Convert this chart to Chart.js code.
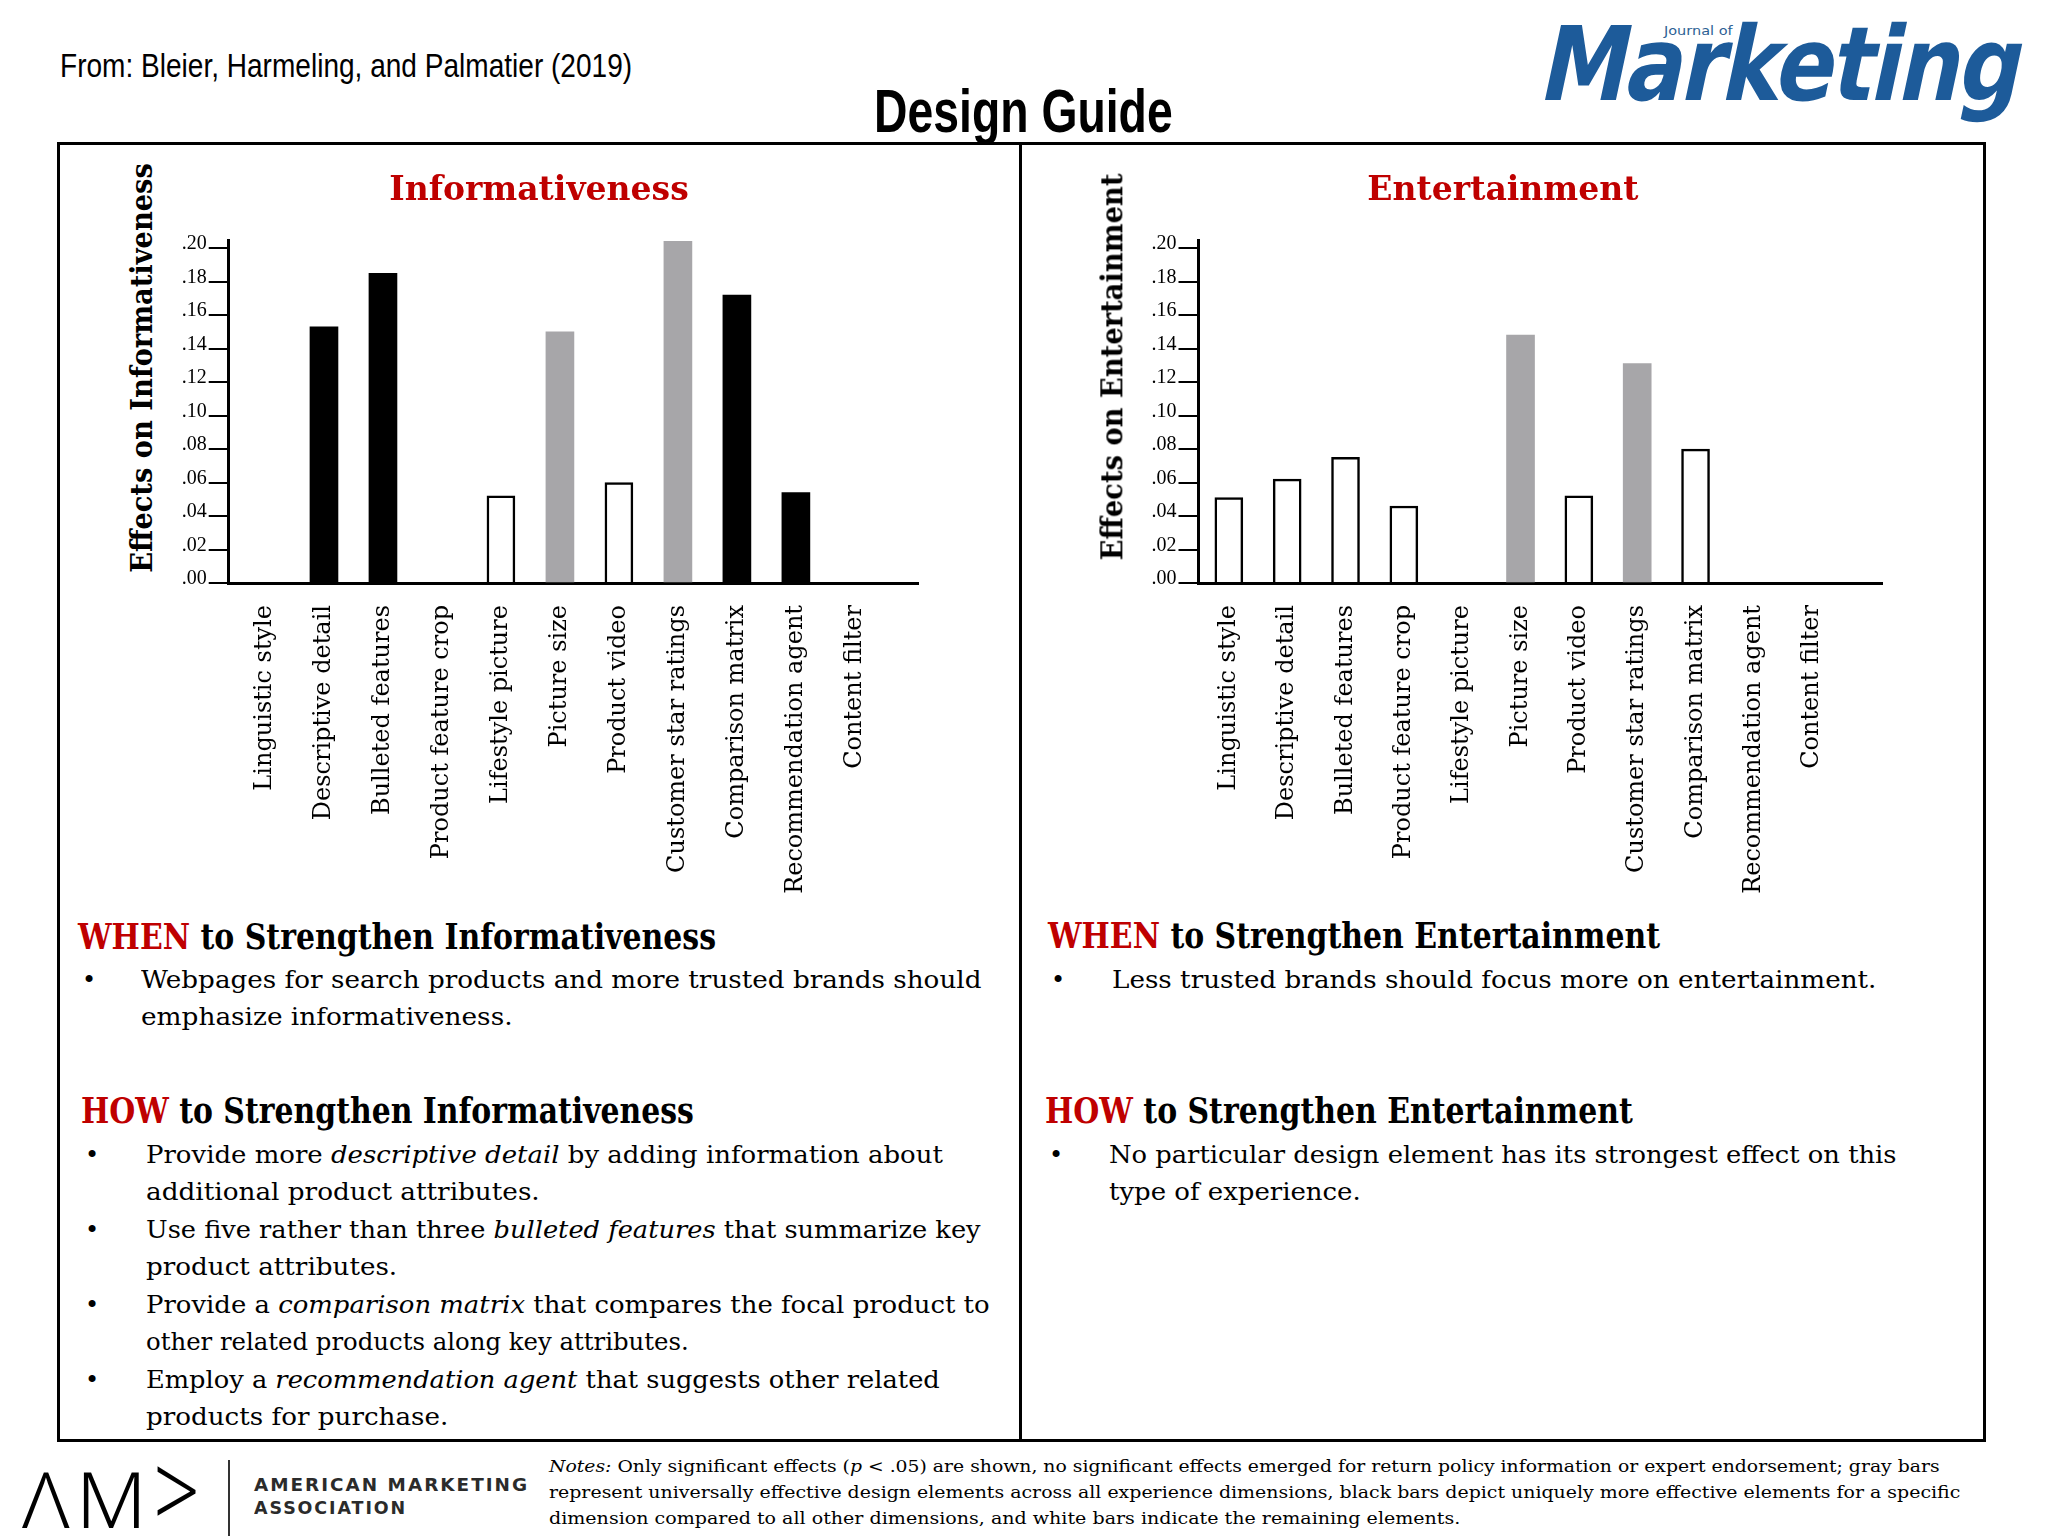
<!DOCTYPE html>
<html>
<head>
<meta charset="utf-8">
<title>Design Guide</title>
<script src="https://cdn.jsdelivr.net/npm/chart.js@4.4.1/dist/chart.umd.min.js"></script>
<style>
  html, body { margin: 0; padding: 0; background: #fff; }
  body { width: 2048px; height: 1536px; position: relative; overflow: hidden; }
  .t { position: absolute; white-space: nowrap; line-height: 1; transform-origin: 0 0; color: #000; }
  .serif  { font-family: 'DejaVu Serif', serif; }
  .bold   { font-weight: bold; }
  .narrow { font-family: 'Liberation Sans Narrow', 'Liberation Sans', Arial, sans-serif; }
  .sans   { font-family: 'DejaVu Sans', sans-serif; }
  .red    { color: #bf0000; }
  i { font-style: italic; }
  canvas { position: absolute; }
  #frame { position: absolute; left: 57px; top: 142px; width: 1929px; height: 1300px;
           border: 3px solid #000; box-sizing: border-box; }
  #divider { position: absolute; left: 1019px; top: 142px; width: 3px; height: 1300px; background: #000; }
  #amaBar { position: absolute; left: 228px; top: 1460px; width: 2px; height: 76px; background: #333; }
</style>
</head>
<body>
<div id="frame"></div>
<div id="divider"></div>
<div id="amaBar"></div>
<canvas id="infoChart" width="858" height="760" style="left:160px;top:146px"></canvas>
<canvas id="entChart" width="860" height="760" style="left:1123px;top:146px"></canvas>

<script>
// ── Data ────────────────────────────────────────────────────────────────────
const categories = [
  'Linguistic style', 'Descriptive detail', 'Bulleted features', 'Product feature crop',
  'Lifestyle picture', 'Picture size', 'Product video', 'Customer star ratings',
  'Comparison matrix', 'Recommendation agent', 'Content filter',
];
const infoValues = [null, 0.153, 0.185, null, 0.052, 0.150, 0.060, 0.204, 0.172, 0.054, null];
const infoKinds  = ['', 'black', 'black', '', 'white', 'gray', 'white', 'gray', 'black', 'black', ''];
const entValues  = [0.051, 0.062, 0.075, 0.046, null, 0.148, 0.052, 0.131, 0.080, null, null];
const entKinds   = ['white', 'white', 'white', 'white', '', 'gray', 'white', 'gray', 'white', '', ''];
const yTickValues = [0, 0.02, 0.04, 0.06, 0.08, 0.10, 0.12, 0.14, 0.16, 0.18, 0.20];
const yTickLabels = ['.00', '.02', '.04', '.06', '.08', '.10', '.12', '.14', '.16', '.18', '.20'];

// ── Styles ──────────────────────────────────────────────────────────────────
const SERIF = "'DejaVu Serif', serif";
const RED   = '#bf0000';
const FILL  = { black: '#000000', gray: '#a7a6a9', white: '#ffffff' };

// ── Bar chart builder ───────────────────────────────────────────────────────
function makeChart(id, title, values, kinds, opt) {
  const canvas = document.getElementById(id);
  return new Chart(canvas, {
    type: 'bar',
    data: {
      datasets: [{
        data: values.map((v, i) => ({ x: i, y: v })),
        backgroundColor: kinds.map(k => FILL[k] || 'transparent'),
        borderColor: '#000',
        borderWidth: kinds.map(k => k === 'white' ? 2.5 : 0),
        barThickness: 28,
      }],
    },
    options: {
      responsive: false,
      animation: false,
      layout: { padding: { left: 0, right: opt.padRight, top: 0, bottom: 0 } },
      plugins: {
        legend: { display: false },
        tooltip: { enabled: false },
        title: {
          display: true,
          text: title,
          color: RED,
          font: { family: SERIF, size: 33, weight: 'bold' },
          padding: { top: 26, bottom: 29 },
        },
      },
      scales: {
        x: {
          type: 'linear',
          offset: false,
          bounds: 'data',
          min: opt.xMin,
          max: opt.xMax,
          afterBuildTicks: s => { s.ticks = categories.map((c, i) => ({ value: i })); },
          afterFit: s => { s.height = 323; },
          grid: { display: false, drawTicks: false, offset: false },
          border: { color: '#000', width: 3 },
          ticks: {
            autoSkip: false,
            minRotation: 90,
            maxRotation: 90,
            padding: 22,
            color: '#000',
            font: { family: SERIF, size: 24 },
            callback: v => categories[v],
          },
        },
        y: {
          bounds: 'data',
          min: 0,
          max: 0.2045,
          afterBuildTicks: s => { s.ticks = yTickValues.map(v => ({ value: v })); },
          afterFit: s => { s.width = opt.yWidth; },
          grid: { drawOnChartArea: false, color: '#000', lineWidth: 2, tickLength: 20 },
          border: { color: '#000', width: 3 },
          ticks: {
            padding: 2,
            labelOffset: -4,
            color: '#000',
            font: { family: "'Liberation Serif', serif", size: 20 },
            callback: (v, i) => yTickLabels[i],
          },
        },
      },
    },
  });
}

makeChart('infoChart', 'Informativeness', infoValues, infoKinds,
  { xMin: -0.615, xMax: 11.07, yWidth: 68.7, padRight: 100 });
makeChart('entChart', 'Entertainment', entValues, entKinds,
  { xMin: -0.52, xMax: 11.21, yWidth: 75.5, padRight: 100.2 });

// ── Page text (x, baseline, font size, target width) ────────────────────────
const BASE = 0.846; // baseline offset for line-height 1
const TEXT = [
  { x: 60,   b: 77,   fs: 33, w: 572, cls: 'narrow', html: 'From: Bleier, Harmeling, and Palmatier (2019)' },
  { x: 874,  b: 132,  fs: 62, w: 299, cls: 'narrow bold', html: 'Design Guide' },
  { x: 1664, b: 35,   fs: 13, w: 69,  cls: 'sans', style: 'color:#2d5f94', html: 'Journal of' },

  // left panel
  { x: 78,  b: 949,  fs: 35, w: 638, cls: 'serif bold', html: '<span class="red">WHEN</span> to Strengthen Informativeness' },
  { x: 82,  b: 988,  fs: 24, cls: 'serif', html: '•' },
  { x: 141, b: 988,  fs: 24, w: 841, cls: 'serif', html: 'Webpages for search products and more trusted brands should' },
  { x: 141, b: 1025, fs: 24, w: 372, cls: 'serif', html: 'emphasize informativeness.' },
  { x: 81,  b: 1123, fs: 35, w: 613, cls: 'serif bold', html: '<span class="red">HOW</span> to Strengthen Informativeness' },
  { x: 85,  b: 1163, fs: 24, cls: 'serif', html: '•' },
  { x: 146, b: 1163, fs: 24, w: 797, cls: 'serif', html: 'Provide more <i>descriptive detail</i> by adding information about' },
  { x: 146, b: 1200, fs: 24, w: 394, cls: 'serif', html: 'additional product attributes.' },
  { x: 85,  b: 1238, fs: 24, cls: 'serif', html: '•' },
  { x: 146, b: 1238, fs: 24, w: 835, cls: 'serif', html: 'Use five rather than three <i>bulleted features</i> that summarize key' },
  { x: 146, b: 1275, fs: 24, w: 251, cls: 'serif', html: 'product attributes.' },
  { x: 85,  b: 1313, fs: 24, cls: 'serif', html: '•' },
  { x: 146, b: 1313, fs: 24, w: 844, cls: 'serif', html: 'Provide a <i>comparison matrix</i> that compares the focal product to' },
  { x: 146, b: 1350, fs: 24, w: 543, cls: 'serif', html: 'other related products along key attributes.' },
  { x: 85,  b: 1388, fs: 24, cls: 'serif', html: '•' },
  { x: 146, b: 1388, fs: 24, w: 794, cls: 'serif', html: 'Employ a <i>recommendation agent</i> that suggests other related' },
  { x: 146, b: 1425, fs: 24, w: 302, cls: 'serif', html: 'products for purchase.' },

  // right panel
  { x: 1048, b: 948,  fs: 35, w: 612, cls: 'serif bold', html: '<span class="red">WHEN</span> to Strengthen Entertainment' },
  { x: 1051, b: 988,  fs: 24, cls: 'serif', html: '•' },
  { x: 1112, b: 988,  fs: 24, w: 764, cls: 'serif', html: 'Less trusted brands should focus more on entertainment.' },
  { x: 1045, b: 1123, fs: 35, w: 588, cls: 'serif bold', html: '<span class="red">HOW</span> to Strengthen Entertainment' },
  { x: 1049, b: 1163, fs: 24, cls: 'serif', html: '•' },
  { x: 1109, b: 1163, fs: 24, w: 788, cls: 'serif', html: 'No particular design element has its strongest effect on this' },
  { x: 1109, b: 1200, fs: 24, w: 252, cls: 'serif', html: 'type of experience.' },

  // footer
  { x: 254, b: 1492, fs: 18.4, w: 275, cls: 'sans bold', style: 'color:#2b2b2b;letter-spacing:2px', html: 'AMERICAN MARKETING' },
  { x: 254, b: 1515, fs: 18.4, w: 153, cls: 'sans bold', style: 'color:#2b2b2b;letter-spacing:2px', html: 'ASSOCIATION' },
  { x: 549, b: 1472, fs: 17, w: 1391, cls: 'serif', html: '<i>Notes:</i> Only significant effects (<i>p</i> &lt; .05) are shown, no significant effects emerged for return policy information or expert endorsement; gray bars' },
  { x: 549, b: 1498, fs: 17, w: 1411, cls: 'serif', html: 'represent universally effective design elements across all experience dimensions, black bars depict uniquely more effective elements for a specific' },
  { x: 549, b: 1524, fs: 17, w: 911,  cls: 'serif', html: 'dimension compared to all other dimensions, and white bars indicate the remaining elements.' },
];

const placed = TEXT.map(t => {
  const el = document.createElement('div');
  el.className = 't ' + t.cls;
  el.style.cssText += `left:${t.x}px;top:${t.b - BASE * t.fs}px;font-size:${t.fs}px;` + (t.style || '');
  el.innerHTML = t.html;
  document.body.appendChild(el);
  return [el, t];
});

// Journal of Marketing wordmark
const logo = document.createElement('div');
logo.className = 't sans bold';
logo.style.cssText += `left:1537px;top:${100 - BASE * 103}px;font-size:103px;color:#1d5b9a;letter-spacing:-3px;transform-origin:0 ${BASE * 103}px`;
logo.textContent = 'Marketing';
document.body.appendChild(logo);

// AMA mark
const ama = document.createElement('div');
ama.className = 't';
ama.style.cssText += `left:22px;top:${1528 - 0.888 * 78}px;font-size:78px;font-family:'Noto Sans',sans-serif;font-weight:300;letter-spacing:6px`;
ama.innerHTML = 'ΛM<span style="display:inline-block;transform:scaleY(1.35);transform-origin:50% 85%">&gt;</span>';
document.body.appendChild(ama);

// Rotated axis titles (centre x, centre y, length)
const yTitles = [
  { cx: 142.7,  cy: 368,   w: 410, text: 'Effects on Informativeness' },
  { cx: 1112.7, cy: 366.6, w: 387, text: 'Effects on Entertainment' },
].map(t => {
  const el = document.createElement('div');
  el.className = 't serif bold';
  el.style.fontSize = '30px';
  el.textContent = t.text;
  document.body.appendChild(el);
  return [el, t];
});

function fitAll() {
  placed.forEach(([el, t]) => {
    if (!t.w) return;
    el.style.transform = `scaleX(${t.w / el.offsetWidth})`;
  });
  logo.style.transform = `skewX(-12deg) scaleX(${478 / logo.offsetWidth})`;
  ama.style.transform = `scaleX(${184 / ama.offsetWidth})`;
  yTitles.forEach(([el, t]) => {
    const w = el.offsetWidth, h = el.offsetHeight;
    el.style.left = (t.cx - w / 2) + 'px';
    el.style.top = (t.cy - h / 2) + 'px';
    el.style.transformOrigin = '50% 50%';
    el.style.transform = `rotate(-90deg) scaleX(${t.w / w})`;
  });
}
document.fonts.ready.then(fitAll);
</script>
</body>
</html>
